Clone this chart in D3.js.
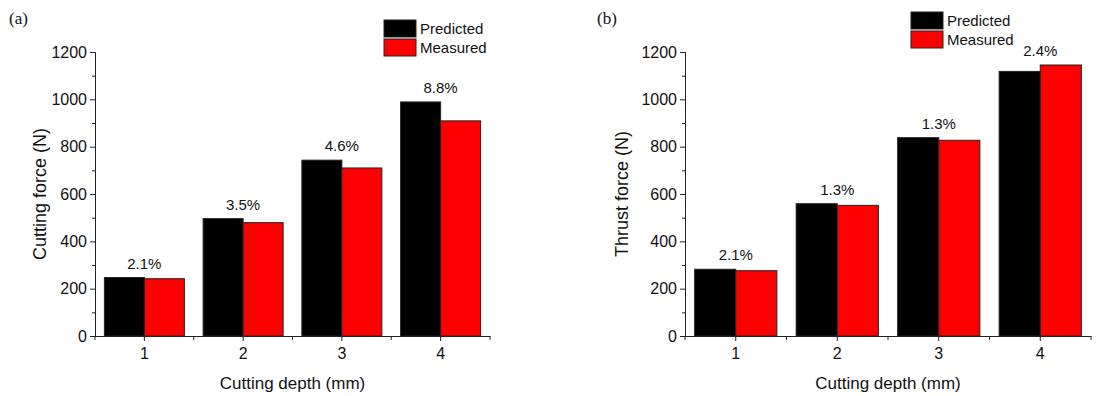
<!DOCTYPE html>
<html>
<head>
<meta charset="utf-8">
<script src="https://cdn.jsdelivr.net/npm/d3@7"></script>
<style>
  body { margin: 0; background: #fff; }
  svg { display: block; }
  text { font-family: "Liberation Sans", Arial, sans-serif; fill: #111; }
</style>
</head>
<body>
<svg id="fig" width="1106" height="396"></svg>
<script>
// valeurs
const depths = ['1', '2', '3', '4'];
const seriesNames = ['Predicted', 'Measured'];
const seriesColors = ['#000000', '#ff0000'];
const cuttingPredicted = [247, 496, 743, 989];
const cuttingMeasured = [242, 479, 710, 909];
const cuttingErrors = ['2.1%', '3.5%', '4.6%', '8.8%'];
const thrustPredicted = [282, 559, 838, 1118];
const thrustMeasured = [276, 552, 827, 1145];
const thrustErrors = ['2.1%', '1.3%', '1.3%', '2.4%'];
const yTicks = [0, 200, 400, 600, 800, 1000, 1200];
const yMinorTicks = [100, 300, 500, 700, 900, 1100];

const svg = d3.select('#fig');

function drawPanel(p) {
    let g = svg.append('g').attr('transform', `translate(${p.left},${p.top})`),
        w = p.width, h = p.height;

    let x = d3.scaleBand().domain(depths).range([0, w]).paddingInner(0.19).paddingOuter(0.095),
        x1 = d3.scaleBand().domain(seriesNames).range([0, x.bandwidth()]),
        y = d3.scaleLinear().domain([0, 1200]).range([h, 0]);

    // barres
    let rows = depths.map((d, i) => ({depth: d, vals: [p.predicted[i], p.measured[i]], err: p.errors[i]}));
    let grp = g.selectAll('.grp').data(rows).enter().append('g')
        .attr('transform', d => `translate(${x(d.depth)},0)`);
    grp.selectAll('rect').data(d => d.vals.map((v, k) => ({name: seriesNames[k], v: v, c: seriesColors[k]})))
        .enter().append('rect')
        .attr('x', d => x1(d.name))
        .attr('y', d => y(d.v))
        .attr('width', x1.bandwidth())
        .attr('height', d => h - y(d.v))
        .attr('fill', d => d.c)
        .attr('stroke', '#222')
        .attr('stroke-width', 1);
    // écarts en %
    grp.append('text')
        .attr('x', x.bandwidth() / 2)
        .attr('y', d => y(d3.max(d.vals)) - 9)
        .attr('text-anchor', 'middle')
        .style('font-size', '15px')
        .text(d => d.err);

    // axe y
    let ya = g.append('g')
        .call(d3.axisLeft(y).tickValues(yTicks).tickSize(5).tickPadding(3).tickFormat(d3.format('d')));
    ya.selectAll('text').style('font-size', '16px').style('font-family', '"Liberation Sans", Arial, sans-serif').attr('fill', '#111');
    ya.selectAll('line, path').attr('stroke', '#222');
    g.append('g').call(d3.axisLeft(y).tickValues(yMinorTicks).tickSize(3).tickFormat(''))
        .selectAll('line, path').attr('stroke', '#222');

    // axe x
    let xa = g.append('g').attr('transform', `translate(0,${h})`)
        .call(d3.axisBottom(x).tickSize(5).tickPadding(7).tickSizeOuter(0));
    xa.selectAll('text').style('font-size', '16px').style('font-family', '"Liberation Sans", Arial, sans-serif').attr('fill', '#111');
    xa.selectAll('line, path').attr('stroke', '#222');
    let bounds = d3.range(depths.length + 1).map(i => i * x.step());
    g.selectAll('.minx').data(bounds).enter().append('line')
        .attr('x1', d => d).attr('x2', d => d)
        .attr('y1', h).attr('y2', h + 4)
        .attr('stroke', '#222');

    // titres d'axes
    g.append('text')
        .attr('transform', `translate(${p.yLabelX},${h / 2}) rotate(-90)`)
        .attr('text-anchor', 'middle')
        .style('font-size', '18px')
        .text(p.yLabel);
    g.append('text')
        .attr('x', w / 2).attr('y', h + 53)
        .attr('text-anchor', 'middle')
        .style('font-size', '17px')
        .text('Cutting depth (mm)');

    // repère (a)/(b)
    svg.append('text')
        .attr('x', p.tagX).attr('y', 24)
        .style('font-family', '"Liberation Serif", "Times New Roman", serif')
        .style('font-size', '17px')
        .text(p.tag);

    // légende
    let leg = svg.append('g').attr('transform', `translate(${p.legX},${p.legY})`);
    seriesNames.forEach((s, k) => {
        leg.append('rect')
            .attr('x', 0).attr('y', k * 19)
            .attr('width', 32).attr('height', 17)
            .attr('fill', seriesColors[k]).attr('stroke', '#222');
        leg.append('text')
            .attr('x', 36).attr('y', k * 19 + 14)
            .style('font-size', '15px')
            .text(s);
    });
}

drawPanel({left: 95, top: 52, width: 395, height: 284,
    predicted: cuttingPredicted, measured: cuttingMeasured, errors: cuttingErrors,
    yLabel: 'Cutting force (N)', yLabelX: -49, tag: '(a)', tagX: 9, legX: 384, legY: 20});
drawPanel({left: 685, top: 52, width: 406, height: 284,
    predicted: thrustPredicted, measured: thrustMeasured, errors: thrustErrors,
    yLabel: 'Thrust force (N)', yLabelX: -57, tag: '(b)', tagX: 597, legX: 911, legY: 12});
</script>
</body>
</html>
